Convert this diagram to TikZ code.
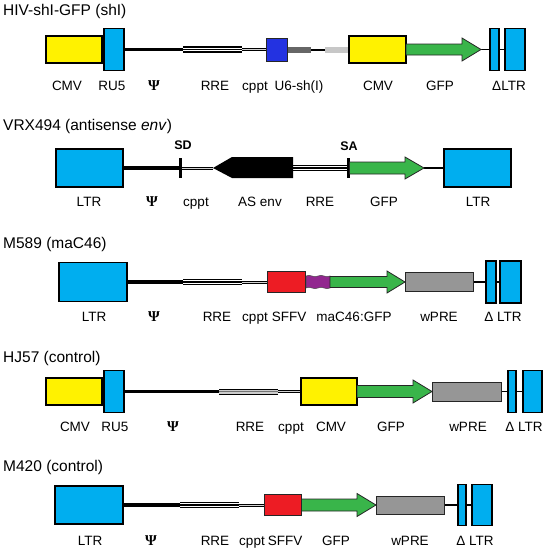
\documentclass[tikz,border=0pt]{standalone}
\usepackage{fontspec}
\setmainfont{Liberation Sans}
\newfontfamily\psifont{Liberation Serif}
\usetikzlibrary{backgrounds}
\definecolor{cmvyellow}{RGB}{255,242,0}
\definecolor{ltrblue}{RGB}{0,174,239}
\definecolor{gfpgreen}{RGB}{57,181,74}
\definecolor{sffvred}{RGB}{237,28,36}
\definecolor{wpregray}{RGB}{150,150,150}
\definecolor{macpurple}{RGB}{146,39,143}
\definecolor{u6blue}{RGB}{35,50,225}
\newcommand\GfpArrow[6]{%
  \draw[arrowshape] (#1,#4-#5) -- (#2,#4-#5) -- (#2,#4-#6) -- (#3,#4) -- (#2,#4+#6) -- (#2,#4+#5) -- (#1,#4+#5) -- cycle;}
\begin{document}
\begin{tikzpicture}[x=1pt,y=-1pt,
  bigbox/.style={draw=black, line width=1.8pt, inner sep=0pt, outer sep=0pt},
  cmv/.style={bigbox, fill=cmvyellow},
  ltr/.style={bigbox, fill=ltrblue},
  smallbox/.style={draw=black!85, line width=0.9pt, inner sep=0pt, outer sep=0pt},
  sffv/.style={smallbox, fill=sffvred},
  wpre/.style={smallbox, fill=wpregray},
  u6/.style={smallbox, fill=u6blue},
  splice/.style={fill=black, inner sep=0pt, outer sep=0pt, minimum width=3pt, minimum height=20pt},
  arrowshape/.style={draw=black!85, line width=0.8pt, fill=gfpgreen, line join=miter},
  psi/.style={draw=black, line width=3.8pt},
  rre/.style={draw=black, line width=1.6pt, preaction={draw=black, line width=6.4pt}, preaction={draw=white, line width=3.4pt}},
  rregray/.style={draw=black!55, line width=1pt, preaction={draw=black, line width=6pt}, preaction={draw=gray!40, line width=4pt}},
  cppt/.style={draw=gray!35, line width=0.9pt, preaction={draw=black, line width=3pt}},
  thinline/.style={draw=black, line width=1.2pt},
  dgbar/.style={draw=black!60, line width=6pt},
  lgbar/.style={draw=black!22, line width=6pt},
  midline/.style={draw=black, line width=2pt},
  lab/.style={font=\fontsize{13.5}{16}\selectfont, anchor=base, inner sep=0pt},
  psilab/.style={font=\psifont\bfseries\fontsize{15}{18}\selectfont, anchor=base, inner sep=0pt},
  ttl/.style={font=\fontsize{15.5}{18}\selectfont, anchor=base west, inner sep=0pt},
  bold/.style={font=\bfseries\fontsize{12.5}{15}\selectfont, anchor=base, inner sep=0pt}]
\useasboundingbox (0,0) rectangle (547,549);

% ---------------- Row 1: HIV-shI-GFP ----------------
\node[ttl] (t1) at (3,15) {HIV-shI-GFP (shI)};
\node[cmv, minimum width=56pt, minimum height=27pt] (cmv1) at (74,49.5) {};
\node[ltr, minimum width=20pt, minimum height=42pt] (ru1) at (114,49.5) {};
\coordinate (rre1a) at (183,49.5);
\coordinate (rre1b) at (242,49.5);
\node[u6, minimum width=21pt, minimum height=23pt] (u61) at (277,49.5) {};
\coordinate (dg1) at (311,49.5);
\coordinate (lg1) at (325,49.5);
\node[cmv, minimum width=57pt, minimum height=27pt] (cmv1b) at (377.5,49.5) {};
\GfpArrow{406}{462}{481}{49.5}{5.5}{11.5}
\coordinate (g1) at (481,49.5);
\node[ltr, minimum width=9pt, minimum height=42pt] (dl1a) at (494.5,49.5) {};
\node[ltr, minimum width=20pt, minimum height=42pt] (dl1b) at (515,49.5) {};
\begin{pgfonlayer}{background}
\draw[psi] (ru1.east) -- (rre1a);
\draw[rre] (rre1a) -- (rre1b);
\draw[cppt] (rre1b) -- (u61.west);
\draw[dgbar] (u61.east) -- (dg1);
\draw[midline] (dg1) -- (lg1);
\draw[lgbar] (lg1) -- (cmv1b.west);
\draw[thinline] (g1) -- (dl1a.west);
\draw[thinline] (dl1a.east) -- (dl1b.west);
\end{pgfonlayer}
\node[lab] (l1a) at (67,90.5) {CMV};
\node[lab] (l1b) at (112,90.5) {RU5};
\node[psilab] (l1c) at (154,90.5) {Ψ};
\node[lab] (l1d) at (215,90.5) {RRE};
\node[lab] (l1e) at (255,90.5) {cppt};
\node[lab] (l1f) at (299,90.5) {U6-sh(I)};
\node[lab] (l1g) at (378,90.5) {CMV};
\node[lab] (l1h) at (440,90.5) {GFP};
\node[lab] (l1i) at (509,90.5) {ΔLTR};

% ---------------- Row 2: VRX494 ----------------
\node[ttl] (t2) at (3,130) {VRX494 (antisense \textit{env})};
\node[ltr, minimum width=67pt, minimum height=38pt] (ltr2) at (89.5,168) {};
\node[splice] (sd2) at (180,168) {};
\node[bold] (sdl) at (183,149) {SD};
\coordinate (as2a) at (213,168);
\coordinate (as2b) at (293,168);
\fill[black] (as2a) -- (232,157) -- (293,157) -- (293,178) -- (232,178) -- cycle;
\node[splice] (sa2) at (348,168) {};
\node[bold] (sal) at (349,150) {SA};
\GfpArrow{349.5}{405}{424}{168}{6}{11}
\coordinate (g2) at (424,168);
\node[ltr, minimum width=67pt, minimum height=38pt] (ltr2b) at (477.5,168) {};
\begin{pgfonlayer}{background}
\draw[psi] (ltr2.east) -- (sd2.west);
\draw[cppt] (sd2.east) -- (as2a);
\draw[rre] (as2b) -- (sa2.west);
\draw[thinline] (g2) -- (ltr2b.west);
\end{pgfonlayer}
\node[lab] (l2a) at (89,206) {LTR};
\node[psilab] (l2b) at (152,206) {Ψ};
\node[lab] (l2c) at (196,206) {cppt};
\node[lab] (l2d) at (260,206) {AS env};
\node[lab] (l2e) at (320,206) {RRE};
\node[lab] (l2f) at (384,206) {GFP};
\node[lab] (l2g) at (478,206) {LTR};

% ---------------- Row 3: M589 ----------------
\node[ttl] (t3) at (3,248) {M589 (maC46)};
\node[ltr, minimum width=68pt, minimum height=39pt] (ltr3) at (93,282) {};
\coordinate (rre3a) at (183,282);
\coordinate (rre3b) at (242,282);
\node[sffv, minimum width=38pt, minimum height=21pt] (sf3) at (286.5,282) {};
\fill[macpurple, draw=black!70, line width=0.5pt] (306,276) .. controls (310,273.5) and (314,278.5) .. (318,276) .. controls (322,273.5) and (326,278.5) .. (330,276) -- (330,288) .. controls (326,290.5) and (322,285.5) .. (318,288) .. controls (314,290.5) and (310,285.5) .. (306,288) -- cycle;
\GfpArrow{330}{387}{405}{282}{5.5}{11}
\coordinate (g3) at (405,282);
\node[wpre, minimum width=68pt, minimum height=19pt] (wp3) at (439.5,282) {};
\node[ltr, minimum width=10pt, minimum height=42pt] (dl3a) at (491,282) {};
\node[ltr, minimum width=21pt, minimum height=42pt] (dl3b) at (510.5,282) {};
\begin{pgfonlayer}{background}
\draw[psi] (ltr3.east) -- (rre3a);
\draw[rre] (rre3a) -- (rre3b);
\draw[cppt] (rre3b) -- (sf3.west);
\draw[thinline] (wp3.east) -- (dl3a.west);
\draw[thinline] (dl3a.east) -- (dl3b.west);
\end{pgfonlayer}
\node[lab] (l3a) at (94,321) {LTR};
\node[psilab] (l3b) at (154,321) {Ψ};
\node[lab] (l3c) at (217,321) {RRE};
\node[lab] (l3d) at (255,321) {cppt};
\node[lab] (l3e) at (289,321) {SFFV};
\node[lab] (l3f) at (354,321) {maC46:GFP};
\node[lab] (l3g) at (439,321) {wPRE};
\node[lab] (l3h) at (503,321) {Δ LTR};

% ---------------- Row 4: HJ57 ----------------
\node[ttl] (t4) at (3,362) {HJ57 (control)};
\node[cmv, minimum width=56pt, minimum height=27pt] (cmv4) at (74,391.5) {};
\node[ltr, minimum width=20pt, minimum height=42pt] (ru4) at (114,391.5) {};
\coordinate (rre4a) at (219,391.5);
\coordinate (rre4b) at (278,391.5);
\node[cmv, minimum width=56pt, minimum height=27pt] (cmv4b) at (329,391.5) {};
\GfpArrow{357}{413}{432}{391.5}{6}{11.5}
\coordinate (g4) at (432,391.5);
\node[wpre, minimum width=69pt, minimum height=19pt] (wp4) at (467,391.5) {};
\node[ltr, minimum width=8pt, minimum height=42pt] (dl4a) at (512,391.5) {};
\node[ltr, minimum width=19pt, minimum height=42pt] (dl4b) at (532.5,391.5) {};
\begin{pgfonlayer}{background}
\draw[psi] (ru4.east) -- (rre4a);
\draw[rregray] (rre4a) -- (rre4b);
\draw[cppt] (rre4b) -- (cmv4b.west);
\draw[thinline] (wp4.east) -- (dl4a.west);
\draw[thinline] (dl4a.east) -- (dl4b.west);
\end{pgfonlayer}
\node[lab] (l4a) at (75,431) {CMV};
\node[lab] (l4b) at (115,431) {RU5};
\node[psilab] (l4c) at (173,431) {Ψ};
\node[lab] (l4d) at (250,431) {RRE};
\node[lab] (l4e) at (291,431) {cppt};
\node[lab] (l4f) at (331,431) {CMV};
\node[lab] (l4g) at (391,431) {GFP};
\node[lab] (l4h) at (468,431) {wPRE};
\node[lab] (l4i) at (524,431) {Δ LTR};

% ---------------- Row 5: M420 ----------------
\node[ttl] (t5) at (3,471) {M420 (control)};
\node[ltr, minimum width=68pt, minimum height=38pt] (ltr5) at (89,505) {};
\coordinate (rre5a) at (180,505);
\coordinate (rre5b) at (239,505);
\node[sffv, minimum width=37pt, minimum height=21pt] (sf5) at (283,505) {};
\GfpArrow{301.5}{357}{376}{505}{6}{11.5}
\coordinate (g5) at (376,505);
\node[wpre, minimum width=68pt, minimum height=18pt] (wp5) at (410.5,505) {};
\node[ltr, minimum width=8pt, minimum height=41pt] (dl5a) at (462,505) {};
\node[ltr, minimum width=20pt, minimum height=41pt] (dl5b) at (482,505) {};
\begin{pgfonlayer}{background}
\draw[psi] (ltr5.east) -- (rre5a);
\draw[rre] (rre5a) -- (rre5b);
\draw[cppt] (rre5b) -- (sf5.west);
\draw[thinline] (wp5.east) -- (dl5a.west);
\draw[thinline] (dl5a.east) -- (dl5b.west);
\end{pgfonlayer}
\node[lab] (l5a) at (90,545) {LTR};
\node[psilab] (l5b) at (151,545) {Ψ};
\node[lab] (l5c) at (215,545) {RRE};
\node[lab] (l5d) at (252,545) {cppt};
\node[lab] (l5e) at (285,545) {SFFV};
\node[lab] (l5f) at (336,545) {GFP};
\node[lab] (l5g) at (410,545) {wPRE};
\node[lab] (l5h) at (475,545) {Δ LTR};
\end{tikzpicture}
\end{document}
